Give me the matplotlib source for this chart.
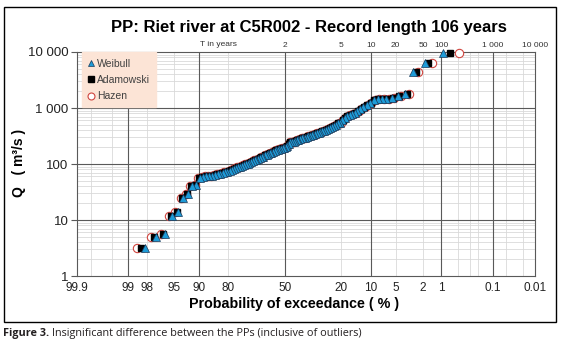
import numpy as np
import matplotlib
matplotlib.use('Agg')
import matplotlib.pyplot as plt
from matplotlib.lines import Line2D
from matplotlib.patches import Rectangle
from statistics import NormalDist

plt.rcParams['font.family'] = ['Liberation Sans', 'DejaVu Sans']

# Datos: caudales ordenados de mayor a menor (m3/s)
record_length = 106
q_values = [9500, 6300, 4400, 1800, 1620, 1500, 1470, 1450, 1440, 1370,
            1240, 1130, 1030, 950, 880, 830, 790, 750, 710, 670,
            600, 550, 530, 500, 470, 450, 435, 420, 405, 395,
            385, 375, 365, 355, 345, 335, 325, 318, 310, 303,
            297, 292, 286, 280, 272, 265, 258, 252, 248, 243,
            225, 210, 200, 196, 192, 188, 184, 180, 176, 170,
            166, 160, 155, 150, 146, 142, 136, 132, 128, 124,
            120, 116, 113, 110, 106, 102, 99, 96, 93, 90,
            87, 84, 81, 78, 76, 73, 71, 68, 66, 65,
            63, 62, 61, 60, 58, 56, 43, 40, 28.8, 25,
            13.9, 11.8, 5.6, 5.0, 3.1]

x_tick_labels = ['99.9', '99', '98', '95', '90', '80', '50', '20', '10', '5', '2', '1', '0.1', '0.01']
x_major_grid = [99, 90, 50, 10, 1, 0.1]
x_minor_grid = [99.8, 99.5, 98, 95, 80, 20, 5, 2, 0.5, 0.3, 0.2, 0.05, 0.02]
t_years = [2, 5, 10, 20, 50, 100, 1000, 10000]
t_labels = ['2', '5', '10', '20', '50', '100', '1 000', '10 000']
y_ticks = [1, 10, 100, 1000, 10000]
y_labels = ['1', '10', '100', '1 000', '10 000']

nd = NormalDist()


def zpos(p_percent):
    # posicion en papel normal para una probabilidad de excedencia en %
    return np.array([nd.inv_cdf(1 - p / 100.0) for p in np.atleast_1d(p_percent)])


q = np.array(q_values)
m = np.arange(1, len(q) + 1)
n = record_length
p_weibull = 100 * m / (n + 1)
p_adamowski = 100 * (m - 0.25) / (n + 0.5)
p_hazen = 100 * (m - 0.5) / n

fig = plt.figure(figsize=(5.63, 3.43), dpi=100)
ax = fig.add_axes([0.1368, 0.1953, 0.8135, 0.6531])

# rejilla
for v in x_minor_grid:
    ax.axvline(zpos(v)[0], color='#d9d9d9', lw=0.6, zorder=1)
for v in x_major_grid:
    ax.axvline(zpos(v)[0], color='#595959', lw=0.8, zorder=1.5)
for dec in [1, 10, 100, 1000]:
    for k in range(2, 10):
        ax.axhline(dec * k, color='#d9d9d9', lw=0.6, zorder=1)
for v in [10, 100, 1000]:
    ax.axhline(v, color='#595959', lw=0.8, zorder=1.5)

ax.plot(zpos(p_hazen), q, 'o', ms=6, mfc='white', mec='#d0453f', mew=0.8, zorder=3, clip_on=False)
ax.plot(zpos(p_adamowski), q, 's', ms=4.5, mfc='black', mec='black', zorder=4, clip_on=False)
ax.plot(zpos(p_weibull), q, '^', ms=6.3, mfc='#1e9bd7', mec='#1b3a5a', mew=0.5, zorder=5, clip_on=False)

ax.set_yscale('log')
ax.set_ylim(1, 10000)
ax.set_xlim(zpos(99.9)[0], zpos(0.01)[0])
ax.set_yticks(y_ticks)
ax.set_yticklabels(y_labels)
ax.yaxis.set_minor_locator(plt.NullLocator())
ax.set_xticks(zpos([float(s) for s in x_tick_labels]))
ax.set_xticklabels(x_tick_labels)
ax.tick_params(axis='x', length=0, labelsize=8.5, pad=4, colors='#222222')
ax.tick_params(axis='y', length=4, width=0.8, color='#595959', labelsize=9.5, pad=2, labelcolor='#222222')
for s in ax.spines.values():
    s.set_color('#595959')
    s.set_linewidth(0.8)

# eje superior con periodo de retorno
ax2 = ax.twiny()
ax2.set_xlim(ax.get_xlim())
ax2.set_xticks(zpos([100.0 / t for t in t_years]))
ax2.set_xticklabels(t_labels)
ax2.tick_params(axis='x', length=0, labelsize=6, pad=2, colors='#333333')
for s in ax2.spines.values():
    s.set_visible(False)
ax.text(zpos(90)[0] + 0.02, 1.02, 'T in years', transform=ax.get_xaxis_transform(),
        fontsize=6, color='#333333', ha='left', va='bottom')

handles = [Line2D([], [], ls='', marker='^', ms=5, mfc='#1e9bd7', mec='#1b3a5a', mew=0.5),
           Line2D([], [], ls='', marker='s', ms=4.3, mfc='black', mec='black'),
           Line2D([], [], ls='', marker='o', ms=5, mfc='white', mec='#d0453f', mew=0.8)]
leg = ax.legend(handles, ['Weibull', 'Adamowski', 'Hazen'], loc='upper left',
                bbox_to_anchor=(0.01, 0.998), fontsize=7.5, frameon=True, fancybox=False,
                facecolor='#fce4d6', edgecolor='#fce4d6', framealpha=1, handlelength=0.6,
                handletextpad=0.3, labelspacing=0.6, borderpad=0.6, borderaxespad=0)
leg._legend_box.align = 'left'
for t in leg.get_texts():
    t.set_color('#404040')
leg.set_zorder(6)
# caja algo mas ancha como en la original
fig.canvas.draw()
frame = leg.get_frame()
frame.set_width(frame.get_width() + 12)

fig.text(0.549, 0.921, 'PP: Riet river at C5R002 - Record length 106 years',
         ha='center', va='center', fontsize=12, fontweight='bold')
fig.text(0.522, 0.113, 'Probability of exceedance ( % )', ha='center', va='center',
         fontsize=10.3, fontweight='bold')
fig.text(0.034, 0.525, 'Q   ( m³/s )', rotation=90, ha='center', va='center',
         fontsize=10, fontweight='bold')

# marco de la figura y pie
fig.patches.append(Rectangle((0.0071, 0.0612), 0.9805, 0.9184, transform=fig.transFigure,
                             fill=False, edgecolor='black', lw=1.0))
t1 = fig.text(0.005, 0.029, 'Figure 3.', fontsize=7.8, fontweight='bold', color='#231f20',
              family=['Open Sans', 'DejaVu Sans'], va='center')
fig.canvas.draw()
bb = t1.get_window_extent()
x1 = (bb.x1 + 3) / fig.bbox.width
fig.text(x1, 0.029, 'Insignificant difference between the PPs (inclusive of outliers)',
         fontsize=7.8, color='#231f20', family=['Open Sans', 'DejaVu Sans'], va='center')

fig.savefig('out.png', dpi=100)
